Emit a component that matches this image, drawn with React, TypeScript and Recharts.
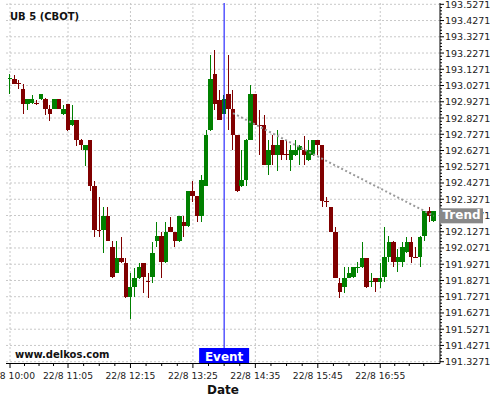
import React from 'react';
import { ComposedChart, Bar, Line, XAxis, YAxis, CartesianGrid, ReferenceLine } from 'recharts';

// 5-minute bars, 22/8
const times = [
  '10:00', '10:05', '10:10', '10:15', '10:20', '10:25', '10:30', '10:35', '10:40', '10:45', '10:50', '10:55',
  '11:00', '11:05', '11:10', '11:15', '11:20', '11:25', '11:30', '11:35', '11:40', '11:45', '11:50', '11:55',
  '12:00', '12:05', '12:10', '12:15', '12:20', '12:25', '12:30', '12:35', '12:40', '12:45', '12:50', '12:55',
  '13:00', '13:05', '13:10', '13:15', '13:20', '13:25', '13:30', '13:35', '13:40', '13:45', '13:50', '13:55',
  '14:00', '14:05', '14:10', '14:15', '14:20', '14:25', '14:30', '14:35', '14:40', '14:45', '14:50', '14:55',
  '15:00', '15:05', '15:10', '15:15', '15:20', '15:25', '15:30', '15:35', '15:40', '15:45', '15:50', '15:55',
  '16:00', '16:05', '16:10', '16:15', '16:20', '16:25', '16:30', '16:35', '16:40', '16:45', '16:50', '16:55',
  '17:00', '17:05', '17:10', '17:15', '17:20', '17:25', '17:30', '17:35', '17:40', '17:45', '17:50', '17:55',
];

const open = [
  193.068, 193.065, 193.040, 193.003, 192.913, 192.917, 192.917, 192.944, 192.942, 192.880,
  192.882, 192.942, 192.851, 192.911, 192.783, 192.812, 192.689, 192.629, 192.689, 192.406,
  192.138, 192.135, 192.221, 192.036, 191.876, 191.968, 191.937, 191.724, 191.785, 191.845,
  191.937, 191.822, 191.847, 192.069, 192.098, 191.939, 192.159, 192.128, 192.069, 192.190,
  192.161, 192.375, 192.344, 192.221, 192.408, 192.751, 193.096, 192.940, 192.851, 192.973,
  192.880, 192.720, 192.408, 192.443, 192.691, 192.973, 192.783, 192.782, 192.537, 192.658,
  192.597, 192.689, 192.603, 192.566, 192.597, 192.628, 192.628, 192.566, 192.597, 192.689,
  192.658, 192.315, 192.282, 192.128, 191.812, 191.785, 191.843, 191.847, 191.906, 191.908,
  191.966, 191.820, 191.843, 191.816, 191.847, 191.970, 192.063, 191.939, 191.939, 192.001,
  192.063, 191.971, 191.970, 192.099, 192.252, 192.196,
];

const high = [
  193.096, 193.094, 193.063, 193.034, 192.942, 192.971, 192.937, 192.976, 192.948, 192.909,
  192.942, 192.942, 192.909, 192.911, 192.909, 192.812, 192.695, 192.658, 192.689, 192.438,
  192.340, 192.282, 192.281, 192.067, 192.067, 192.096, 191.968, 191.874, 191.905, 191.937,
  191.937, 191.874, 192.063, 192.186, 192.124, 192.186, 192.217, 192.128, 192.221, 192.221,
  192.375, 192.441, 192.344, 192.474, 192.751, 193.217, 193.248, 193.002, 192.966, 193.217,
  193.002, 192.720, 192.628, 192.695, 193.032, 192.973, 192.878, 192.847, 192.689, 192.720,
  192.751, 192.692, 192.689, 192.658, 192.689, 192.658, 192.716, 192.689, 192.689, 192.689,
  192.658, 192.340, 192.282, 192.155, 191.843, 191.908, 191.908, 191.909, 191.939, 192.063,
  191.966, 191.871, 191.843, 191.933, 192.159, 192.098, 192.067, 192.018, 192.063, 192.093,
  192.093, 192.032, 192.098, 192.252, 192.278, 192.252,
];

const low = [
  192.972, 193.034, 193.008, 192.849, 192.878, 192.913, 192.905, 192.939, 192.847, 192.808,
  192.880, 192.880, 192.843, 192.745, 192.780, 192.654, 192.632, 192.531, 192.375, 192.096,
  192.096, 191.997, 192.067, 191.841, 191.872, 191.937, 191.718, 191.588, 191.724, 191.839,
  191.751, 191.718, 191.812, 192.036, 191.843, 191.937, 192.125, 192.036, 192.064, 192.093,
  192.155, 192.313, 192.186, 192.186, 192.406, 192.745, 192.878, 192.812, 192.849, 192.751,
  192.628, 192.371, 192.401, 192.408, 192.689, 192.782, 192.597, 192.535, 192.474, 192.535,
  192.504, 192.566, 192.566, 192.504, 192.594, 192.535, 192.535, 192.562, 192.594, 192.597,
  192.282, 192.282, 192.125, 191.842, 191.718, 191.748, 191.842, 191.845, 191.874, 191.906,
  191.782, 191.785, 191.754, 191.782, 191.816, 191.939, 191.908, 191.878, 191.908, 191.999,
  191.936, 191.968, 191.908, 192.069, 192.186, 192.190,
];

const close = [
  193.071, 193.039, 193.036, 192.913, 192.942, 192.942, 192.913, 192.973, 192.882, 192.851,
  192.942, 192.882, 192.880, 192.753, 192.812, 192.691, 192.660, 192.658, 192.408, 192.135,
  192.133, 192.221, 192.071, 191.847, 191.968, 191.939, 191.724, 191.785, 191.845, 191.907,
  191.847, 191.819, 191.999, 192.098, 191.939, 192.128, 192.128, 192.069, 192.221, 192.161,
  192.375, 192.346, 192.221, 192.443, 192.720, 193.065, 192.913, 192.814, 192.942, 192.882,
  192.722, 192.377, 192.443, 192.689, 192.973, 192.783, 192.780, 192.537, 192.628, 192.597,
  192.658, 192.599, 192.599, 192.628, 192.628, 192.654, 192.597, 192.628, 192.689, 192.658,
  192.315, 192.311, 192.128, 191.843, 191.754, 191.843, 191.874, 191.908, 191.908, 191.966,
  191.785, 191.822, 191.816, 191.843, 191.970, 192.063, 191.939, 191.970, 192.032, 192.063,
  191.970, 191.969, 192.093, 192.252, 192.221, 192.252,
];

const xTicks = ['10:00', '11:05', '12:15', '13:25', '14:35', '15:45', '16:55'];
const yMajor = [
  191.3271, 191.4271, 191.5271, 191.6271, 191.7271, 191.8271, 191.9271, 192.0271,
  192.1271, 192.2271, 192.3271, 192.4271, 192.5271, 192.6271, 192.7271, 192.8271,
  192.9271, 193.0271, 193.1271, 193.2271, 193.3271, 193.4271, 193.5271,
];

const eventTime = '14:00';
const trendFrom = { time: '14:10', value: 192.857 };
const trendTo = { time: '17:55', value: 192.225 };

const UP = '#008000';
const DOWN = '#800000';
const FONT = "'DejaVu Sans', Verdana, sans-serif";

const W = 500;
const H = 400;
const margin = { top: 3, right: 0, bottom: 0.5, left: 6 };
const Y_W = 60;
const X_H = 36;
const PAD = { left: 1.8, right: 4 };
const Y_DOMAIN: [number, number] = [191.316, 193.5351];
const plotW = W - margin.left - margin.right - Y_W;
const plotH = H - margin.top - margin.bottom - X_H;
const band = (plotW - PAD.left - PAD.right) / times.length;
// same linear mapping as the chart's y axis, used for the "Trend" tag drawn on top of the axis
const yPx = (v: number) => margin.top + ((Y_DOMAIN[1] - v) / (Y_DOMAIN[1] - Y_DOMAIN[0])) * plotH;

const rows = times.map((t, i) => ({
  t,
  o: open[i],
  h: high[i],
  l: low[i],
  c: close[i],
  trend: t === trendFrom.time ? trendFrom.value : t === trendTo.time ? trendTo.value : null,
}));

// minor ticks: 4 between each labelled price
const yMinor = yMajor.slice(0, -1).flatMap(v => [1, 2, 3, 4].map(k => +(v + k * 0.02).toFixed(4)));
const yTicks = [...yMajor, ...yMinor].sort((a, b) => a - b);

const Candle = (props: any) => {
  const { x, y, width, height, payload } = props;
  if (!payload || !height) return null;
  const { o, h, l, c } = payload;
  const k = height / (h - l);
  const py = (v: number) => y + (h - v) * k;
  const col = c >= o ? UP : DOWN;
  const cx = x + width / 2;
  const top = Math.round(py(Math.max(o, c)));
  const bh = Math.max(1, Math.round(py(Math.min(o, c))) - top);
  const bx = Math.round(cx - 2.25);
  const bw = Math.round(cx + 2.25) - bx;
  return (
    <g>
      <rect x={Math.floor(cx)} y={Math.round(y)} width={1} height={Math.round(y + height) - Math.round(y)} fill={col} />
      <rect x={bx} y={top} width={bw} height={bh} fill={col} />
    </g>
  );
};

const YTick = ({ x, y, payload }: any) => {
  const major = yMajor.some(v => Math.abs(v - payload.value) < 1e-6);
  return (
    <g>
      <line x1={x - 5} x2={major ? x - 1 : x - 3} y1={y} y2={y} stroke="#000" />
      {major && (
        <text x={x} y={y} dy={3.5} fontSize={9.5} fontFamily={FONT} fill="#222">
          {payload.value.toFixed(4)}
        </text>
      )}
    </g>
  );
};

const XTick = ({ x, y, payload }: any) => {
  const i = times.indexOf(payload.value);
  const j = xTicks.indexOf(payload.value);
  const next = j < xTicks.length - 1 ? times.indexOf(xTicks[j + 1]) : i + 13;
  const step = ((next - i) * band) / 4;
  const axisY = y - 6;
  return (
    <g>
      <line x1={x} x2={x} y1={axisY} y2={axisY + 4.5} stroke="#000" />
      {[1, 2, 3].map(m => (
        <line key={m} x1={x + m * step} x2={x + m * step} y1={axisY} y2={axisY + 2.5} stroke="#000" />
      ))}
      <text x={x} y={y} dy={9.5} textAnchor="middle" fontSize={9.2} fontFamily={FONT} fill="#222">
        {'22/8 ' + payload.value}
      </text>
    </g>
  );
};

const EventTag = ({ viewBox }: any) => {
  if (!viewBox) return null;
  const { x, y, height } = viewBox;
  const b = y + height;
  return (
    <g>
      <rect x={x - 25} y={b - 15.5} width={50} height={15.5} fill="#0000ff" />
      <text x={x} y={b - 3} textAnchor="middle" fill="#fff" fontWeight="bold" fontSize={12} fontFamily={FONT}>
        Event
      </text>
    </g>
  );
};

export default function App() {
  const ty = yPx(trendTo.value);
  const axisX = margin.left + plotW;
  return (
    <div style={{ position: 'absolute', left: 0, top: 0, width: W, height: H, background: '#fff' }}>
      <ComposedChart width={W} height={H} data={rows} margin={margin} barCategoryGap={0} barGap={0}>
        <CartesianGrid stroke="#c8c8c8" strokeDasharray="2 2" horizontalValues={yMajor} verticalValues={xTicks} />
        <XAxis
          dataKey="t"
          type="category"
          ticks={xTicks}
          interval={0}
          tick={<XTick />}
          tickLine={false}
          tickSize={4}
          tickMargin={2}
          height={X_H}
          padding={PAD}
          axisLine={{ stroke: '#000' }}
        />
        <YAxis
          orientation="right"
          type="number"
          domain={Y_DOMAIN}
          allowDataOverflow
          ticks={yTicks}
          interval={0}
          tick={<YTick />}
          tickLine={false}
          tickSize={4}
          tickMargin={1}
          width={Y_W}
          axisLine={{ stroke: '#000' }}
        />
        <Line
          dataKey="trend"
          connectNulls
          dot={false}
          activeDot={false}
          stroke="#9a9a9a"
          strokeWidth={2}
          strokeDasharray="2 2.5"
          isAnimationActive={false}
        />
        <Bar dataKey={(d: any) => [d.l, d.h]} shape={(p: any) => <Candle {...p} />} isAnimationActive={false} />
        <ReferenceLine x={eventTime} stroke="#0000ff" strokeWidth={1} label={<EventTag />} />
      </ComposedChart>
      <svg width={W} height={H} style={{ position: 'absolute', left: 0, top: 0, pointerEvents: 'none' }}>
        <text x={10} y={19.5} fontWeight="bold" fontSize={10} fontFamily={FONT} fill="#111">
          UB 5 (CBOT)
        </text>
        <text x={15} y={357.5} fontWeight="bold" fontSize={10} fontFamily={FONT} fill="#111">
          www.delkos.com
        </text>
        <text x={margin.left + plotW / 2} y={394} textAnchor="middle" fontWeight="bold" fontSize={12} fontFamily={FONT} fill="#111">
          Date
        </text>
        <rect x={axisX - 1} y={ty - 7.5} width={44} height={15} fill="#888888" />
        <text x={axisX + 2.5} y={ty + 3.5} fill="#fff" fontWeight="bold" fontSize={12} fontFamily={FONT}>
          Trend
        </text>
      </svg>
    </div>
  );
}
